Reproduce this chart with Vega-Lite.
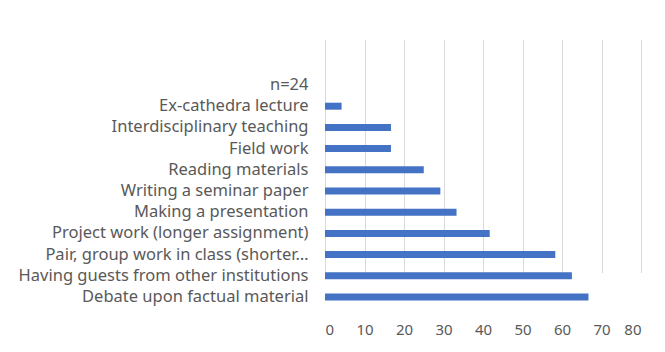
{
  "$schema": "https://vega.github.io/schema/vega-lite/v6.json",
  "width": 316,
  "height": 267,
  "autosize": "none",
  "padding": {"left": 325, "top": 40, "right": 24, "bottom": 45},
  "background": "white",
  "config": {"view": {"stroke": null}, "font": "Noto Sans"},
  "data": {
    "values": [
      {"method": "n=24", "pct": 0},
      {"method": "Ex-cathedra lecture", "pct": 4.2},
      {"method": "Interdisciplinary teaching", "pct": 16.7},
      {"method": "Field work", "pct": 16.7},
      {"method": "Reading materials", "pct": 25},
      {"method": "Writing a seminar paper", "pct": 29.2},
      {"method": "Making a presentation", "pct": 33.3},
      {"method": "Project work (longer assignment)", "pct": 41.7},
      {"method": "Pair, group work in class (shorter…", "pct": 58.3},
      {"method": "Having guests from other institutions", "pct": 62.5},
      {"method": "Debate upon factual material", "pct": 66.7}
    ]
  },
  "mark": {"type": "bar", "color": "#4472C4"},
  "encoding": {
    "y": {
      "field": "method",
      "type": "nominal",
      "sort": null,
      "scale": {"range": [34.4, 267.6], "paddingInner": 0.67, "paddingOuter": 0.335},
      "axis": {"title": null, "ticks": false, "domain": false, "labelFontSize": 16.5, "labelColor": "#595959", "labelPadding": 17, "labelLimit": 0}
    },
    "x": {
      "field": "pct",
      "type": "quantitative",
      "scale": {"domain": [0, 80]},
      "axis": {"title": null, "values": [0, 10, 20, 30, 40, 50, 60, 70, 80], "grid": true, "gridColor": "#d9d9d9", "domain": false, "ticks": false, "labelFontSize": 15, "labelColor": "#595959", "labelPadding": 15}
    }
  }
}
